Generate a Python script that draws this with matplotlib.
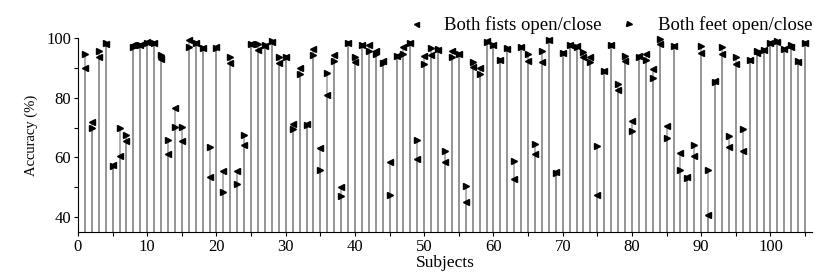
import numpy as np
import matplotlib
matplotlib.use("Agg")
import matplotlib.pyplot as plt

plt.rcParams["font.family"] = ["Liberation Serif", "DejaVu Serif"]

# accuracy per subject (%)
subjects = list(range(1, 106))
fists = [
    90.0, 71.8, 93.5, 98.0, 57.5, 60.4, 65.5, 97.8, 97.6, 98.5,
    98.3, 93.0, 61.3, 76.4, 65.5, 99.2, 98.3, 96.8, 53.3, 97.0,
    55.3, 91.5, 55.3, 64.3, 98.1, 96.0, 97.4, 98.5, 91.5, 93.8,
    71.1, 89.8, 71.3, 96.4, 63.2, 81.0, 94.4, 50.0, 98.3, 91.9,
    97.8, 97.8, 95.5, 92.3, 58.3, 94.0, 97.0, 98.3, 59.5, 94.1,
    94.4, 96.0, 58.3, 95.7, 94.6, 45.1, 90.2, 90.1, 98.9, 97.8,
    92.7, 96.4, 52.8, 97.0, 92.4, 61.2, 92.1, 99.2, 55.0, 94.9,
    97.8, 97.4, 93.8, 93.5, 47.4, 88.9, 97.5, 82.7, 92.4, 72.3,
    94.0, 94.6, 89.6, 98.1, 70.6, 97.2, 61.6, 53.5, 60.6, 94.9,
    40.8, 85.6, 94.6, 63.4, 91.2, 62.1, 92.7, 95.0, 96.0, 98.3,
    98.7, 96.4, 96.9, 91.8, 98.3,
]
feet = [
    94.6, 70.0, 95.5, 98.3, 57.0, 69.8, 67.4, 96.9, 97.6, 98.3,
    98.3, 94.4, 65.7, 70.2, 70.2, 96.9, 98.3, 96.6, 63.6, 96.5,
    48.3, 93.5, 51.0, 67.4, 98.1, 98.0, 97.8, 98.9, 93.5, 93.8,
    69.4, 87.8, 70.8, 94.4, 55.7, 88.4, 92.4, 47.1, 98.3, 93.5,
    97.8, 95.5, 94.6, 91.5, 47.4, 94.0, 94.7, 98.3, 65.8, 91.3,
    96.6, 96.3, 62.1, 93.8, 94.6, 50.5, 92.1, 87.9, 98.7, 97.8,
    92.7, 96.8, 58.7, 97.0, 94.6, 64.6, 95.8, 99.2, 54.8, 94.9,
    97.8, 97.0, 95.3, 91.8, 63.8, 88.9, 97.5, 84.7, 94.1, 68.9,
    93.6, 92.7, 86.7, 99.7, 66.4, 97.2, 55.9, 53.1, 64.3, 97.2,
    55.9, 85.1, 96.9, 67.2, 93.5, 69.4, 92.7, 95.8, 96.0, 98.3,
    99.0, 96.4, 97.5, 92.3, 98.3,
]

ymin = 35

fig = plt.figure(figsize=(8.15, 2.76), dpi=100)
ax = fig.add_axes([78 / 815, 44 / 276, 734 / 815, 194 / 276])

# stems: one per series on the same x, semi-transparent gray
ax.vlines(subjects, ymin, fists, color="#8a8a8a", linewidth=1.2, alpha=0.8, zorder=1)
ax.vlines(subjects, ymin, feet, color="#8a8a8a", linewidth=1.2, alpha=0.8, zorder=1)

ax.plot(subjects, fists, linestyle="none", marker="<", color="black",
        markersize=4.5, label="Both fists open/close", clip_on=False, zorder=3)
ax.plot(subjects, feet, linestyle="none", marker=">", color="black",
        markersize=4.5, label="Both feet open/close", clip_on=False, zorder=3)

ax.set_xlim(0, 106)
ax.set_ylim(ymin, 100)
ax.set_xticks(np.arange(0, 101, 10))
ax.set_xticks(np.arange(0, 106, 5), minor=True)
ax.set_yticks([40, 60, 80, 100])
ax.set_yticks([50, 70, 90], minor=True)
ax.tick_params(axis="both", which="both", direction="out", length=3,
               width=0.8, labelsize=12, pad=2)

ax.spines["top"].set_visible(False)
ax.spines["right"].set_visible(False)

ax.set_xlabel("Subjects", fontsize=12.5, labelpad=0)
ax.set_ylabel("Accuracy (%)", fontsize=10.5, labelpad=6)

ax.legend(loc="lower right", bbox_to_anchor=(1.0, 1.02), ncol=2, frameon=False,
          fontsize=13.5, handlelength=1.0, handletextpad=1.0, columnspacing=1.0,
          borderaxespad=0, borderpad=0.0, markerscale=0.8)

fig.savefig("out.png", dpi=100)
